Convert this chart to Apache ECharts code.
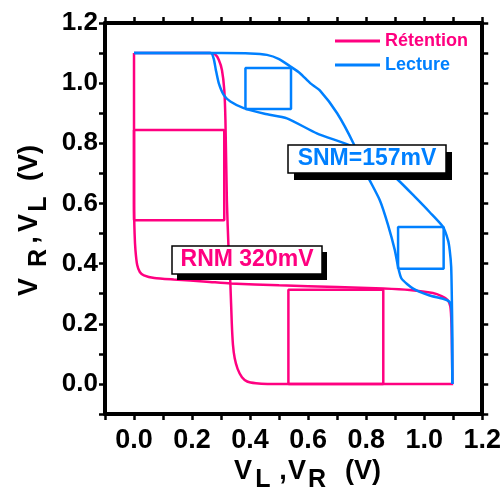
<!DOCTYPE html>
<html><head><meta charset="utf-8">
<script src="https://cdn.jsdelivr.net/npm/echarts@6/dist/echarts.min.js"></script>
<style>html,body{margin:0;padding:0;background:#fff}#c{width:504px;height:497px}</style>
</head><body><div id="c"></div>
<script>
// ---- data (volts) ----
const retentionCurve1 = [[0,1.1],[0.1,1.1],[0.2,1.1],[0.26,1.1],[0.28,1.095],[0.292,1.078],[0.303,1.044],[0.311,0.978],[0.315,0.878],[0.32,0.61],[0.326,0.444],[0.332,0.334],[0.337,0.2],[0.341,0.13],[0.347,0.085],[0.357,0.05],[0.372,0.022],[0.39,0.008],[0.42,0.002],[0.46,0],[0.6,0],[0.8,0],[1.0,0],[1.1,0]];
const retentionCurve2 = [[0,1.1],[0,1.0],[0,0.8],[0,0.6],[0.002,0.5],[0.005,0.444],[0.011,0.395],[0.02,0.372],[0.034,0.361],[0.07,0.352],[0.137,0.347],[0.25,0.34],[0.332,0.334],[0.5,0.328],[0.7,0.322],[0.859,0.317],[0.95,0.312],[1.03,0.302],[1.06,0.292],[1.08,0.28],[1.09,0.258],[1.094,0.2],[1.096,0.1],[1.097,0]];
const readCurve1 = [[0,1.1],[0.3,1.1],[0.4,1.099],[0.458,1.094],[0.5,1.08],[0.538,1.056],[0.572,1.033],[0.607,1.0],[0.641,0.975],[0.7,0.9],[0.756,0.8],[0.8,0.7],[0.847,0.611],[0.875,0.53],[0.899,0.444],[0.91,0.389],[0.922,0.35],[0.962,0.317],[1.019,0.294],[1.065,0.283],[1.088,0.272],[1.094,0.25],[1.096,0.1],[1.097,0]];
const readCurve2 = [[0,1.1],[0.2,1.1],[0.265,1.1],[0.275,1.08],[0.282,1.044],[0.292,1.0],[0.309,0.961],[0.332,0.939],[0.378,0.917],[0.45,0.898],[0.527,0.883],[0.63,0.833],[0.755,0.789],[0.83,0.745],[0.91,0.678],[0.97,0.62],[1.02,0.57],[1.065,0.522],[1.082,0.478],[1.088,0.444],[1.093,0.389],[1.095,0.3],[1.097,0.15],[1.097,0]];
const rnmSquare1 = [[0,0.544],[0.311,0.544],[0.311,0.844],[0,0.844],[0,0.544]];
const rnmSquare2 = [[0.532,0],[0.859,0],[0.859,0.313],[0.532,0.313],[0.532,0]];
const snmSquare1 = [[0.384,0.914],[0.541,0.914],[0.541,1.05],[0.384,1.05],[0.384,0.914]];
const snmSquare2 = [[0.91,0.383],[1.067,0.383],[1.067,0.522],[0.91,0.522],[0.91,0.383]];
const seriesNames = ['Rétention','Lecture'];
const snmLabel = 'SNM=157mV';
const rnmLabel = 'RNM 320mV';
const axisMin = -0.1, axisMax = 1.2, axisStep = 0.1;

const PINK = '#FF0080', BLUE = '#0080FF';
const FONT = 'Arial, "Liberation Sans", sans-serif';

function tickFmt(v){
  const k = Math.round(v*10);
  if (k < 0 || k % 2 !== 0) return '';
  return (k/10).toFixed(1);
}
function lineSeries(name, data, color){
  return {type:'line', name, data, symbol:'none', smooth:0.2,
    lineStyle:{color, width:2.5}, itemStyle:{color}, animation:false};
}
function boxSeries(data, color){
  return {type:'line', name:'box', data, symbol:'none', smooth:false,
    lineStyle:{color, width:2.5}, itemStyle:{color}, animation:false, silent:true};
}
const axCommon = {type:'value', min:axisMin, max:axisMax, interval:axisStep,
  axisLine:{show:true, onZero:false, lineStyle:{color:'#000', width:4}},
  axisTick:{show:true, inside:false, length:6, lineStyle:{color:'#000', width:2.5}},
  splitLine:{show:false}};

const chart = echarts.init(document.getElementById('c'), null, {renderer:'canvas'});
const sub = (t,x,y,size) => ({type:'text', x, y, style:{text:t, font:'bold '+size+'px '+FONT, fill:'#000', align:'center', verticalAlign:'middle', textAlign:'center', textVerticalAlign:'middle'}});
chart.setOption({
  animation:false,
  grid:{left:105, right:21, top:23, bottom:83},
  xAxis:[
    Object.assign({}, axCommon, {position:'bottom', axisLabel:{show:true, formatter:tickFmt, color:'#000', fontSize:27, fontWeight:'bold', fontFamily:FONT, margin:13}}),
    Object.assign({}, axCommon, {position:'top', axisLabel:{show:false}})
  ],
  yAxis:[
    Object.assign({}, axCommon, {position:'left', axisLabel:{show:true, formatter:tickFmt, color:'#000', fontSize:26, fontWeight:'bold', fontFamily:FONT, margin:7}}),
    Object.assign({}, axCommon, {position:'right', axisLabel:{show:false}})
  ],
  legend:{orient:'vertical', left:335, top:32, icon:'rect', itemWidth:45, itemHeight:3, itemGap:6,
    data:[{name:seriesNames[0], textStyle:{color:PINK}}, {name:seriesNames[1], textStyle:{color:BLUE}}],
    textStyle:{fontSize:18, fontWeight:'bold', fontFamily:FONT}, padding:0},
  series:[
    lineSeries(seriesNames[0], retentionCurve1, PINK),
    lineSeries(seriesNames[0], retentionCurve2, PINK),
    boxSeries(rnmSquare1, PINK),
    boxSeries(rnmSquare2, PINK),
    lineSeries(seriesNames[1], readCurve1, BLUE),
    lineSeries(seriesNames[1], readCurve2, BLUE),
    boxSeries(snmSquare1, BLUE),
    boxSeries(snmSquare2, BLUE)
  ],
  graphic:[
    {type:'rect', shape:{x:294, y:152, width:158, height:28}, style:{fill:'#000'}, z:100},
    {type:'rect', shape:{x:288, y:145, width:158, height:28}, style:{fill:'#fff', stroke:'#000', lineWidth:1.5}, z:101},
    {type:'text', x:367, y:159, z:102, style:{text:snmLabel, font:'bold 23px '+FONT, fill:BLUE, align:'center', verticalAlign:'middle', textAlign:'center', textVerticalAlign:'middle'}},
    {type:'rect', shape:{x:177, y:252, width:150, height:28}, style:{fill:'#000'}, z:100},
    {type:'rect', shape:{x:172, y:246, width:150, height:28}, style:{fill:'#fff', stroke:'#000', lineWidth:1.5}, z:101},
    {type:'text', x:247, y:260, z:102, style:{text:rnmLabel, font:'bold 23px '+FONT, fill:PINK, align:'center', verticalAlign:'middle', textAlign:'center', textVerticalAlign:'middle'}},
    {type:'group', x:0, y:0, children:[
      sub('V',243,472,27), sub('L',263,480,25), sub(',',283,472,27), sub('V',297,472,27), sub('R',317,480,25), sub('(V)',363,472,27)
    ]},
    {type:'group', x:30, y:297, rotation:Math.PI/2, children:[
      sub('V',10,0,27), sub('R',39,9,25), sub(',',57,0,27), sub('V',74,0,27), sub('L',93,9,25), sub('(V)',134,0,27)
    ]}
  ]
});
</script></body></html>
